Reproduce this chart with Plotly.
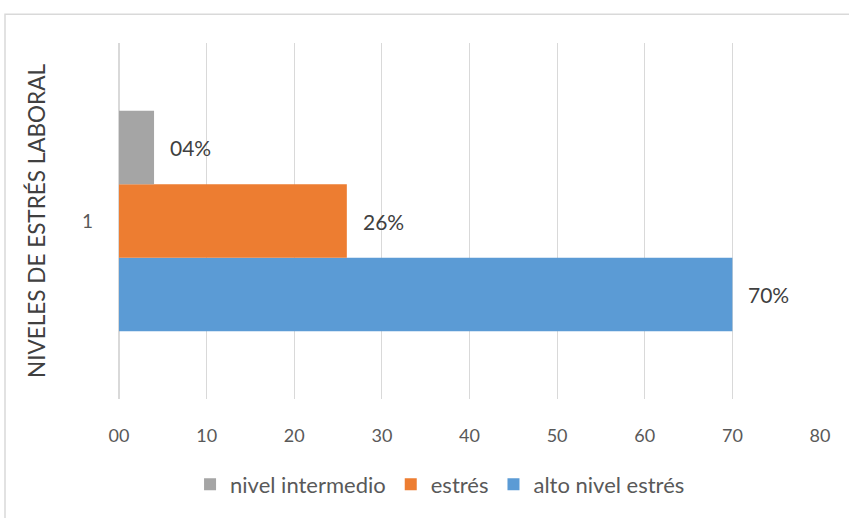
import plotly.graph_objects as go

# Stress level distribution (percent of respondents)
categories = ["1"]
series_names = ["alto nivel estrés", "estrés", "nivel intermedio"]
series_values = [[70], [26], [4]]
series_colors = ["#5B9BD5", "#ED7D31", "#A5A5A5"]
x_ticks = [0, 10, 20, 30, 40, 50, 60, 70, 80]

W, H = 849, 518
margin = dict(l=119, r=29, t=43, b=117)
bargap = 0.38
font_family = "Lato, 'Open Sans', sans-serif"

fig = go.Figure()
for name, vals, color in zip(series_names, series_values, series_colors):
    fig.add_trace(go.Bar(
        y=categories, x=vals, name=name, orientation="h",
        marker=dict(color=color, line=dict(width=0)),
    ))

# data labels just past the end of each bar
plot_h = H - margin["t"] - margin["b"]
slot_px = plot_h * (1 - bargap) / len(series_names)
n = len(series_names)
for i, vals in enumerate(series_values):
    for ci, v in enumerate(vals):
        fig.add_annotation(
            x=v, y=ci, text=f"{v:02d}%", showarrow=False,
            xanchor="left", yanchor="middle", xshift=14,
            yshift=(i - (n - 1) / 2) * slot_px,
            font=dict(family=font_family, size=21, color="#404040"),
        )

plot_w = W - margin["l"] - margin["r"]
# light chart-area frame
fig.add_shape(
    type="rect", xref="paper", yref="paper",
    x0=(5 - margin["l"]) / plot_w, x1=(W + 10 - margin["l"]) / plot_w,
    y0=-(H + 10 - margin["t"] - plot_h) / plot_h, y1=(plot_h + margin["t"] - 14) / plot_h,
    line=dict(color="#D9D9D9", width=1.5), fillcolor="rgba(0,0,0,0)", layer="below",
)

fig.update_layout(
    width=W, height=H, margin=margin,
    paper_bgcolor="white", plot_bgcolor="white",
    barmode="group", bargap=bargap,
    font=dict(family=font_family, size=18, color="#595959"),
    showlegend=True,
    legend=dict(
        orientation="h", traceorder="reversed",
        x=0.458, xanchor="center", y=-0.24, yanchor="middle",
        font=dict(size=22, color="#595959"),
    ),
    xaxis=dict(
        range=[0, 80], tickvals=x_ticks, tickformat="02d",
        showgrid=True, gridcolor="#D9D9D9", gridwidth=1,
        zeroline=True, zerolinecolor="#D9D9D9", zerolinewidth=1.5,
        showline=False, ticks="",
        ticklabelstandoff=24,
        tickfont=dict(size=18, color="#595959"),
    ),
    yaxis=dict(
        type="category", range=[-0.5, len(categories) - 0.5],
        showgrid=False, zeroline=False, showline=False,
        ticks="", ticklabelstandoff=25,
        tickfont=dict(size=19, color="#595959"),
        title=dict(text="NIVELES DE ESTRÉS LABORAL", standoff=30,
                   font=dict(size=22.5, color="#404040")),
    ),
)

fig.write_html("out.html")
